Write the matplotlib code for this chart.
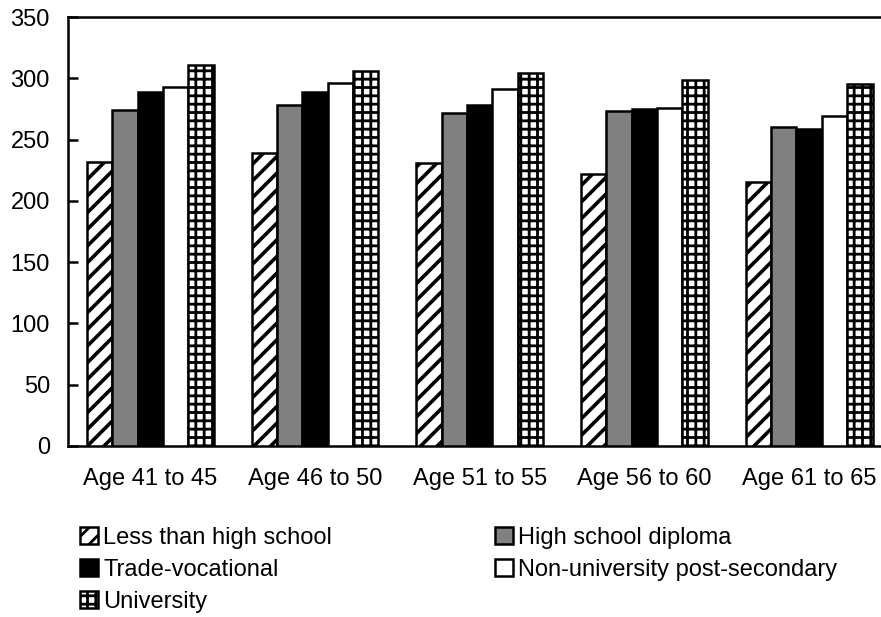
import numpy as np
import matplotlib
matplotlib.use('Agg')
import matplotlib.pyplot as plt

plt.rcParams['font.family'] = ['Liberation Sans', 'DejaVu Sans']

age_groups = ['Age 41 to 45', 'Age 46 to 50', 'Age 51 to 55', 'Age 56 to 60', 'Age 61 to 65']
series_names = ['Less than high school', 'High school diploma', 'Trade-vocational',
                'Non-university post-secondary', 'University']

less_than_hs = [232, 239, 231, 222, 215]
hs_diploma = [274, 278, 272, 273, 260]
trade_voc = [289, 289, 278, 275, 259]
non_univ = [293, 296, 291, 276, 269]
university = [311, 306, 304, 299, 295]

y_ticks = [0, 50, 100, 150, 200, 250, 300, 350]

all_values = [less_than_hs, hs_diploma, trade_voc, non_univ, university]
facecolors = ['white', '#808080', 'black', 'white', 'white']
hatches = ['//', None, None, None, '++']
hatch_lw = [2.6, 1.0, 1.0, 1.0, 2.0]

fig = plt.figure(figsize=(8.81, 6.17), dpi=100)
ax = fig.add_axes([68 / 881, 1 - 446 / 617, 1 - 68 / 881, (446 - 17) / 617])

x = np.arange(len(age_groups))
bw = 0.154
handles = []
for k, vals in enumerate(all_values):
    plt.rcParams['hatch.linewidth'] = hatch_lw[k]
    offs = (k - 2) * bw
    bars = ax.bar(x + offs, vals, bw, color=facecolors[k], edgecolor='black',
                  linewidth=1.8, hatch=hatches[k], label=series_names[k], zorder=3)
    for b in bars:
        if hasattr(b, 'set_hatch_linewidth'):
            b.set_hatch_linewidth(hatch_lw[k])
    handles.append(bars)

ax.set_xlim(-0.5, 4 + (881 - 809) / 165)
ax.set_ylim(0, 350)
ax.set_yticks(y_ticks)
ax.set_xticks(x)
ax.set_xticklabels(age_groups)
ax.tick_params(axis='y', direction='in', length=7, width=1.8, labelsize=17, pad=13)
ax.tick_params(axis='x', length=0, labelsize=17, pad=16)

for side in ['left', 'bottom', 'top']:
    ax.spines[side].set_linewidth(1.8)
    ax.spines[side].set_color('black')
ax.spines['right'].set_visible(False)

order = [0, 2, 4, 1, 3]
leg = fig.legend([handles[i] for i in order], [series_names[i] for i in order],
                 loc='upper left', bbox_to_anchor=(80 / 881, 1 - 527 / 617),
                 ncol=2, frameon=False, fontsize=17, borderpad=0, borderaxespad=0,
                 handlelength=0.78, handleheight=0.72, handletextpad=0.2,
                 columnspacing=6.9, labelspacing=0.42)

fig.savefig('out.png', dpi=100)
